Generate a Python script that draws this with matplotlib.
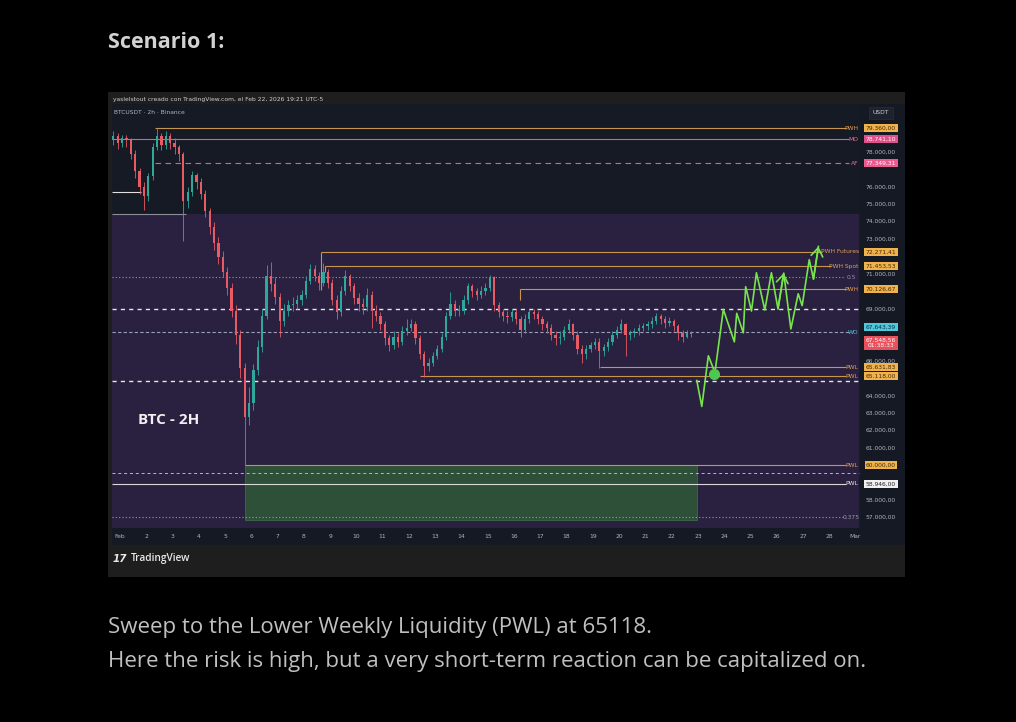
import numpy as np
import matplotlib.pyplot as plt
from matplotlib.patches import Rectangle
from matplotlib.transforms import blended_transform_factory

W, H = 1016, 722

# ---- BTCUSDT candles (4h steps from Jan 31 18:00) ----
t0 = 0.75          # day number, Feb 1 00:00 == 1.0
step = 1 / 6
opens = [78700, 78900, 78500, 78800, 78700, 77900, 76900, 76000, 75500, 76600,
         78300, 78900, 78400, 78900, 78500, 78300, 77900, 75200, 75700, 76700,
         76300, 75600, 74600, 73700, 72800, 72000, 71100, 70200, 68900, 67500,
         65600, 62800, 63600, 65500, 66800, 68600, 70900, 70400, 69700, 68300,
         68900, 69200, 69300, 69500, 69800, 70600, 71300, 70900, 70500, 71100,
         70500, 69500, 68800, 70000, 70900, 70300, 69600, 69300, 69100, 69800,
         68900, 68600, 68100, 67300, 66900, 67400, 67100, 67700, 67900, 68100,
         67300, 66400, 65700, 65900, 66300, 66700, 67400, 68600, 69300, 68900,
         68900, 69500, 70300, 70000, 69800, 70000, 70200, 70800, 69200, 68800,
         68600, 68500, 68800, 68400, 67800, 68400, 68800, 68700, 68400, 68100,
         67900, 67500, 67300, 67400, 67800, 68100, 67500, 66700, 66400, 66700,
         66900, 67100, 66600, 66800, 67100, 67500, 67800, 68100, 67500, 67600,
         67700, 67900, 68000, 68100, 68300, 68600, 68400, 68200, 68300, 68000,
         67600, 67400, 67600]
closes = [78900, 78500, 78800, 78700, 77900, 76900, 76000, 75500, 76600, 78300,
          78900, 78400, 78900, 78500, 78300, 77900, 75200, 75700, 76700, 76300,
          75600, 74600, 73700, 72800, 72000, 71100, 70200, 68900, 67500, 65600,
          62800, 63600, 65500, 66800, 68600, 70900, 70400, 69700, 68300, 68900,
          69200, 69300, 69500, 69800, 70600, 71300, 70900, 70500, 71100, 70500,
          69500, 68800, 70000, 70900, 70300, 69600, 69300, 69100, 69800, 68900,
          68600, 68100, 67300, 66900, 67400, 67100, 67700, 67900, 68100, 67300,
          66400, 65700, 65900, 66300, 66700, 67400, 68600, 69300, 68900, 68900,
          69500, 70300, 70000, 69800, 70000, 70200, 70800, 69200, 68800, 68600,
          68500, 68800, 68400, 67800, 68400, 68800, 68700, 68400, 68100, 67900,
          67500, 67300, 67400, 67800, 68100, 67500, 66700, 66400, 66700, 66900,
          67100, 66600, 66800, 67100, 67500, 67800, 68100, 67500, 67600, 67700,
          67900, 68000, 68100, 68300, 68600, 68400, 68200, 68300, 68000, 67600,
          67400, 67600, 67550]
highs = [79200, 79100, 79000, 79000, 78800, 78100, 77100, 76300, 76800, 78500,
         79360, 79100, 79200, 79100, 78800, 78400, 78000, 76000, 76900, 76800,
         76500, 75800, 74800, 74000, 73100, 72300, 71400, 70500, 69200, 67800,
         65900, 64500, 65800, 67200, 69000, 71500, 71700, 70800, 69900, 69300,
         69500, 69700, 69800, 70100, 70900, 71600, 71500, 71100, 71650, 71300,
         70700, 69800, 70300, 71200, 71000, 70500, 69900, 69600, 70200, 70000,
         69200, 68800, 68300, 67500, 67700, 67600, 68000, 68400, 68400, 68300,
         67500, 66600, 66200, 66500, 66900, 67600, 68800, 69950, 69500, 69200,
         69800, 70500, 70400, 70200, 70300, 70500, 70950, 70900, 69400, 69000,
         68900, 69000, 69000, 68600, 68700, 69000, 69000, 68900, 68600, 68300,
         68100, 67700, 67700, 68000, 68400, 68200, 67700, 66900, 66900, 67100,
         67300, 67300, 67000, 67300, 67700, 68000, 68400, 68200, 67800, 67900,
         68100, 68200, 68300, 68500, 68750, 68700, 68600, 68500, 68400, 68100,
         67800, 67800, 67700]
lows = [78400, 78200, 78300, 78300, 77600, 76500, 75600, 74700, 75200, 76400,
        78100, 78100, 78200, 78200, 77900, 77500, 72900, 74800, 75500, 75900,
        75300, 74300, 73300, 72400, 71600, 70800, 69800, 68500, 67000, 65000,
        60000, 62300, 63200, 65200, 66500, 68400, 70000, 69300, 67400, 68000,
        68600, 68900, 69000, 69200, 69600, 70400, 70600, 70100, 70300, 70200,
        69200, 68400, 68600, 69800, 70000, 69300, 68900, 68700, 68900, 67900,
        68300, 67800, 66900, 66600, 66700, 66800, 66900, 67500, 67700, 67000,
        66100, 65070, 65400, 65700, 66100, 66500, 67200, 68400, 68600, 68600,
        68700, 69300, 69700, 69500, 69600, 69800, 70000, 68900, 68500, 68300,
        68200, 68300, 68100, 67400, 67600, 68200, 68400, 68100, 67800, 67600,
        67200, 66900, 67000, 67200, 67600, 67200, 66400, 65900, 66100, 66500,
        66700, 65600, 66300, 66600, 66900, 67300, 67600, 66300, 67200, 67400,
        67500, 67700, 67800, 67900, 68100, 68100, 67900, 68000, 67700, 67200,
        67100, 67300, 67400]

# ---- drawn projection (green zig-zag) ----
proj_day = [22.96, 23.15, 23.40, 23.65, 23.97, 24.39, 24.48, 24.73, 24.82, 25.04,
            25.23, 25.55, 25.80, 26.05, 26.27, 26.54, 26.82, 26.97, 27.24, 27.40, 27.59]
proj_price = [64880, 63390, 66300, 65340, 68960, 67100, 68740, 67620, 70270, 68870,
              71070, 68930, 71070, 69000, 71050, 67840, 69860, 69180, 71820, 70710, 72580]
entry_day, entry_price = 23.62, 65280

# ---- key levels ----
lvl_names = ['PWH', 'MO', 'AF', 'PWH Futures', 'PWH Spot', 'PWH', 'WO', 'PWL', 'PWL', 'PWL', 'PWL']
lvl_prices = [79360.00, 78741.10, 77349.31, 72271.41, 71453.53, 70126.67, 67643.39,
              65631.83, 65118.00, 60000.00, 58946.00]
lvl_start = [2.33, 0.70, 2.35, 8.65, 8.80, 16.23, 0.70, 19.27, 12.42, 5.76, 0.70]
last_price = 67548.56
axis_prices = [78000, 76000, 75000, 74000, 73000, 71000, 69000, 66000,
               64000, 63000, 62000, 61000, 58000, 57000]
day_labels = ['Feb'] + [str(d) for d in range(2, 29)] + ['Mar']


def frect(l, t, r, b):
    return [l / W, 1 - b / H, (r - l) / W, (b - t) / H]


def eu(p):
    return '{:,.2f}'.format(p).replace(',', 'X').replace('.', ',').replace('X', '.')


plt.rcParams['font.family'] = ['DejaVu Sans']
fig = plt.figure(figsize=(W / 100, H / 100), dpi=100, facecolor='#000000')

# page text
fig.text(108 / W, 1 - 43 / H, 'Scenario 1:', fontsize=15.5, weight='bold', color='#d2d2d2',
         family='Open Sans', va='center')
fig.text(108 / W, 1 - 628 / H, 'Sweep to the Lower Weekly Liquidity (PWL) at 65118.',
         fontsize=16, color='#c0c0c0', family='Open Sans', va='center')
fig.text(108 / W, 1 - 662 / H, 'Here the risk is high, but a very short-term reaction can be capitalized on.',
         fontsize=16, color='#c0c0c0', family='Open Sans', va='center')

# screenshot card
fig.add_artist(Rectangle((108 / W, 1 - 577 / H), 797 / W, 485 / H, transform=fig.transFigure,
                         facecolor='#1e1e1e', edgecolor='none', zorder=0))
fig.add_artist(Rectangle((112 / W, 1 - 545 / H), 793 / W, 441 / H, transform=fig.transFigure,
                         facecolor='#151924', edgecolor='none', zorder=0))
fig.text(113 / W, 1 - 99 / H, 'yaslelstout creado con TradingView.com, el Feb 22, 2026 19:21 UTC-5',
         fontsize=4.3, color='#d0d0d0', va='center')
fig.text(113 / W, 1 - 559 / H, '17', fontsize=7.5, weight='bold', color='#e8e8e8', va='center',
         style='italic')
fig.text(131 / W, 1 - 559 / H, 'TradingView', fontsize=7.3, weight='semibold', color='#e8e8e8',
         va='center', family='Open Sans')

ax = fig.add_axes(frect(112, 105, 861, 528))
ax.set_facecolor('#161a25')
ax.set_xlim(0.70, 29.21)
ax.set_ylim(56408, 80705)
for s in ax.spines.values():
    s.set_visible(False)
ax.set_yticks([])
ax.set_xticks(range(1, 30))
ax.set_xticklabels(day_labels)
ax.tick_params(axis='x', length=0, pad=4, labelsize=4.3, colors='#b2b5be')

# drawn zones
ax.add_patch(Rectangle((0.70, 56408), 28.45, 74430 - 56408, facecolor='#2a2140', edgecolor='none', zorder=0.2))
ax.add_patch(Rectangle((5.76, 56870), 22.96 - 5.76, 60000 - 56870, facecolor='#2e5038',
                       edgecolor='#3c6a48', lw=0.6, zorder=0.3))

# plain horizontal guides
ax.hlines([69000, 64850], 0.70, 29.15, colors='#e6e6e6', lw=1.0, linestyles=(0, (3, 3)), zorder=1)
ax.hlines(59585, 0.70, 29.15, colors='#b8b8c8', lw=0.7, linestyles=(0, (3, 3)), zorder=1)
ax.hlines([70810, 57020], 0.70, 28.55, colors='#9a9aaa', lw=0.8, linestyles=(0, (1, 2)), zorder=1)
ax.text(28.85, 70810, '0.5', fontsize=4.3, color='#8e96a0', va='center', ha='center')
ax.text(28.85, 57020, '0,375', fontsize=4.3, color='#8e9e96', va='center', ha='center')
ax.hlines(75700, 0.70, 1.80, colors='#e0e0e0', lw=0.8, zorder=1)
ax.hlines(74430, 0.70, 3.50, colors='#8a8d98', lw=0.8, zorder=1)
ax.vlines(8.65, 70070, lvl_prices[3], colors='#c8954c', lw=0.8)
ax.vlines(8.80, 71100, lvl_prices[4], colors='#c8954c', lw=0.8)
ax.vlines(16.23, 69500, lvl_prices[5], colors='#c8954c', lw=0.8)

# candles
xs = t0 + np.arange(len(closes)) * step
for x, o, h, l, c in zip(xs, opens, highs, lows, closes):
    col = '#2fa89b' if c >= o else '#e85a64'
    ax.vlines(x, l, h, colors=col, lw=0.6, zorder=2)
    ax.bar(x, max(abs(c - o), 40), bottom=min(o, c), width=0.085, color=col, zorder=2)

# key levels with labels and price boxes
line_cols = ['#c8954c', '#c76a86', '#e0608e', '#c8954c', '#c8954c', '#c8954c', '#9aa0b5',
             '#c8954c', '#c8954c', '#c8954c', '#d8d8d8']
text_cols = ['#e0a050', '#e0709a', '#e0709a', '#e0a050', '#e0a050', '#e0a050', '#4fc3d9',
             '#e0a050', '#e0a050', '#e0a050', '#e8e8e8']
box_cols = ['#f2b24b', '#e0508a', '#ec5a90', '#f2b24b', '#f2b24b', '#f2b24b', '#4dc8dc',
            '#f2b24b', '#f2b24b', '#f2b24b', '#f0f0f0']
box_txt = ['#3b2a0f', '#ffffff', '#ffffff', '#3b2a0f', '#3b2a0f', '#3b2a0f', '#10303a',
           '#3b2a0f', '#3b2a0f', '#3b2a0f', '#222222']
styles = ['-', '-', (0, (5, 4)), '-', '-', '-', (0, (3, 2)), '-', '-', '-', '-']
# the price scale nudges crowded boxes apart (WO sits just above the last price)
box_shift = [0, 0, 0, 0, 0, 0, 300, 0, 0, 0, 0]
ytr = blended_transform_factory(ax.transAxes, ax.transData)
for name, p, s0, lc, tc, bc, bt, ls, dy in zip(lvl_names, lvl_prices, lvl_start, line_cols,
                                                 text_cols, box_cols, box_txt, styles, box_shift):
    end = 29.12 - (len(name) * 3.0 + 4) / 26.27
    ax.hlines(p, s0, end, colors=lc, lw=0.8, linestyles=ls, zorder=1.5)
    ax.text(29.12, p, name, fontsize=4.3, color=tc, ha='right', va='center')
    ax.text(1.0267, p + dy, eu(p), transform=ytr, fontsize=4.3, color=bt, ha='center', va='center',
            clip_on=False, bbox=dict(boxstyle='square,pad=0.25', fc=bc, ec='none'))

ax.text(1.0267, last_price - 520, eu(last_price) + '\n01:38:33', transform=ytr, fontsize=4.3,
        color='#ffffff', ha='center', va='center', clip_on=False, linespacing=1.1,
        bbox=dict(boxstyle='square,pad=0.25', fc='#e8505b', ec='none'))
for p in axis_prices:
    ax.text(1.0267, p, eu(p), transform=ytr, fontsize=4.3, color='#b2b5be',
            ha='center', va='center', clip_on=False)
ax.text(1.0267, 1 - 8 / 423, 'USDT', transform=ax.transAxes, fontsize=4.3, color='#d0d0d0',
        ha='center', va='center', clip_on=False,
        bbox=dict(boxstyle='square,pad=0.6', fc='#1e222d', ec='#2a2e39', lw=0.5))

# projection
ax.plot(proj_day, proj_price, color='#78e44c', lw=1.2, zorder=3)
for k in (14, 20):
    ax.annotate('', xy=(proj_day[k], proj_price[k]), xytext=(proj_day[k - 1], proj_price[k - 1]),
                arrowprops=dict(arrowstyle='->,head_length=0.5,head_width=0.35', color='#78e44c',
                                lw=1.2, shrinkA=0, shrinkB=0, mutation_scale=12), zorder=3)
ax.plot(entry_day, entry_price, 'o', color='#4cc94c', ms=7, zorder=4)

ax.text(0.0, 1 - 7 / 423, ' BTCUSDT · 2h · Binance', transform=ax.transAxes, fontsize=4.3,
        color='#b2b5be', va='center')
ax.text(1 + (138 - 120) / 26.27, 62630, 'BTC - 2H', fontsize=11, weight='bold', color='#f0f0f0',
        va='center', family='Open Sans')

fig.savefig('out.png', dpi=100, facecolor=fig.get_facecolor())
